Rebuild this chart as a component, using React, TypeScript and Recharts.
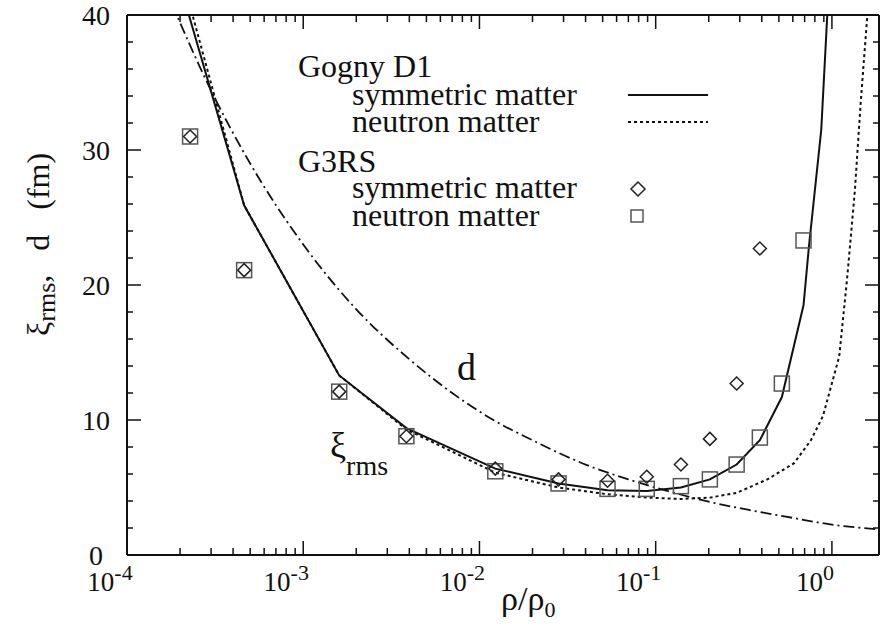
import React from "react";
import {
  ComposedChart,
  Line,
  Scatter,
  XAxis,
  YAxis,
  Legend,
  Customized,
} from "recharts";

const SERIF = "Liberation Serif, Times New Roman, serif";
const INK = "#111";
const X_MIN = 1e-4;
const X_MAX = 1.85;

// G3RS points (rho/rho0 and xi_rms in fm)
const g3rsRho = [2.28e-4, 4.62e-4, 1.6e-3, 3.85e-3, 1.23e-2, 2.81e-2, 5.33e-2, 8.9e-2, 0.139, 0.203, 0.288, 0.39, 0.52, 0.69];
const g3rsSym = [31.0, 21.1, 12.1, 8.8, 6.4, 5.6, 5.5, 5.8, 6.7, 8.6, 12.7, 22.7];
const g3rsNeu = [31.0, 21.1, 12.1, 8.8, 6.2, 5.3, 4.9, 4.9, 5.1, 5.6, 6.7, 8.7, 12.7, 23.3];

// Gogny D1 curves
const gognySymRho = [2.1e-4, 4.62e-4, 1.6e-3, 3.85e-3, 1.23e-2, 2.81e-2, 5.33e-2, 8.9e-2, 0.139, 0.203, 0.288, 0.39, 0.52, 0.69, 0.74, 0.87, 0.95];
const gognySymXi = [41.3, 25.9, 13.3, 9.4, 6.4, 5.3, 4.8, 4.75, 5.0, 5.6, 6.7, 8.5, 11.7, 18.5, 22.8, 31.5, 41.0];
const gognyNeuRho = [2.32e-4, 4.62e-4, 1.6e-3, 3.85e-3, 1.23e-2, 2.81e-2, 5.33e-2, 8.9e-2, 0.139, 0.203, 0.288, 0.43, 0.61, 0.76, 0.89, 1.1, 1.22, 1.35, 1.46, 1.6];
const gognyNeuXi = [40.3, 25.9, 13.3, 9.3, 6.1, 5.0, 4.5, 4.25, 4.15, 4.25, 4.6, 5.6, 6.8, 8.5, 10.3, 14.7, 20.5, 27.0, 33.7, 40.5];

// d (fm)
const dRho = [1.8e-4, 3e-4, 5e-4, 1e-3, 2e-3, 4e-3, 7e-3, 1.2e-2, 2e-2, 4e-2, 7e-2, 0.12, 0.2, 0.35, 0.6, 1.0, 1.5, 2.0];
const dVal = [40.8, 34.4, 29.0, 23.0, 18.2, 14.5, 12.0, 10.0, 8.5, 6.7, 5.6, 4.7, 3.95, 3.3, 2.75, 2.25, 2.0, 1.85];

const decades = [1e-4, 1e-3, 1e-2, 1e-1, 1];
const decadeExp = ["-4", "-3", "-2", "-1", "0"];
const mantissas = [1, 2, 3, 4, 5, 6, 7, 8, 9];
const yTicks = [0, 2, 4, 6, 8, 10, 12, 14, 16, 18, 20, 22, 24, 26, 28, 30, 32, 34, 36, 38, 40];

const xTicks = decades
  .flatMap((d) => mantissas.map((m) => m * d))
  .filter((v) => v <= X_MAX);

const pts = (xs: number[], ys: number[]) => ys.map((y, i) => ({ x: xs[i], y }));

const decadeIndex = (v: number) =>
  decades.findIndex((d) => Math.abs(d - v) < d * 1e-6);

const BottomTick = (props: any) => {
  const { x, y, payload } = props;
  const i = decadeIndex(payload.value);
  const major = i >= 0;
  return (
    <g>
      <line x1={x} x2={x} y1={y} y2={y - (major ? 14 : 7)} stroke={INK} strokeWidth={1.5} />
      {major && (
        <text x={x - 17} y={y + 36} textAnchor="middle" fontFamily={SERIF} fontSize={27} fill={INK}>
          10
          <tspan dy={-11} fontSize={22}>
            {decadeExp[i]}
          </tspan>
        </text>
      )}
    </g>
  );
};

const TopTick = (props: any) => {
  const { x, y, payload } = props;
  const major = decadeIndex(payload.value) >= 0;
  return <line x1={x} x2={x} y1={y} y2={y + (major ? 14 : 7)} stroke={INK} strokeWidth={1.5} />;
};

const LeftTick = (props: any) => {
  const { x, y, payload } = props;
  const major = payload.value % 10 === 0;
  return (
    <g>
      <line x1={x} x2={x + (major ? 14 : 6)} y1={y} y2={y} stroke={INK} strokeWidth={1.5} />
      {major && (
        <text x={x - 31} y={y + 10} textAnchor="middle" fontFamily={SERIF} fontSize={28} fill={INK}>
          {payload.value}
        </text>
      )}
    </g>
  );
};

const RightTick = (props: any) => {
  const { x, y, payload } = props;
  const major = payload.value % 10 === 0;
  return <line x1={x} x2={x - (major ? 14 : 6)} y1={y} y2={y} stroke={INK} strokeWidth={1.5} />;
};

const Square = (props: any) => {
  const { cx, cy } = props;
  return <rect x={cx - 7.5} y={cy - 7.5} width={15} height={15} fill="none" stroke="#555" strokeWidth={1.5} />;
};

const Diamond = (props: any) => {
  const { cx, cy } = props;
  const r = 6.5;
  return (
    <polygon
      points={`${cx},${cy - r} ${cx + r},${cy} ${cx},${cy + r} ${cx - r},${cy}`}
      fill="none"
      stroke="#222"
      strokeWidth={1.5}
    />
  );
};

const LegendBox = () => (
  <svg width={460} height={190} style={{ display: "block", overflow: "visible" }}>
    <g fontFamily={SERIF} fontSize={32} fill={INK}>
      <text x={18} y={27}>Gogny D1</text>
      <text x={72} y={55}>symmetric matter</text>
      <text x={72} y={82}>neutron matter</text>
      <text x={18} y={122}>G3RS</text>
      <text x={72} y={148}>symmetric matter</text>
      <text x={72} y={176}>neutron matter</text>
    </g>
    <line x1={348} x2={428} y1={45} y2={45} stroke={INK} strokeWidth={2} />
    <line x1={348} x2={428} y1={72} y2={72} stroke={INK} strokeWidth={2} strokeDasharray="3 3" />
    <polygon points="358,132 365,139 358,146 351,139" fill="none" stroke="#222" strokeWidth={1.5} />
    <rect x={351} y={160} width={12} height={12} fill="none" stroke="#555" strokeWidth={1.5} />
  </svg>
);

const Labels = () => (
  <g fontFamily={SERIF} fill={INK}>
    <text x={501} y={610} fontSize={34}>
      ρ/ρ<tspan dy={7} fontSize={22}>0</tspan>
    </text>
    <text transform="translate(49,336) rotate(-90)" fontSize={32}>
      ξ<tspan dy={6} fontSize={26}>rms</tspan>
      <tspan dy={-6}>,</tspan>
      <tspan dx={24}>d</tspan>
      <tspan dx={25}>(fm)</tspan>
    </text>
    <text x={457} y={380} fontSize={38}>d</text>
    <text x={330} y={457} fontSize={36}>
      ξ<tspan dy={18} fontSize={28}>rms</tspan>
    </text>
  </g>
);

export default function App() {
  return (
    <div style={{ position: "absolute", left: 0, top: 0 }}>
      <ComposedChart
        width={880}
        height={624}
        margin={{ top: 14, right: 0, left: 67, bottom: 9 }}
        style={{ fontFamily: SERIF }}
      >
        <XAxis
          dataKey="x"
          type="number"
          scale="log"
          domain={[X_MIN, X_MAX]}
          allowDataOverflow
          ticks={xTicks}
          interval={0}
          height={60}
          tickSize={0}
          tickMargin={0}
          tickLine={false}
          tick={<BottomTick />}
          axisLine={{ stroke: INK, strokeWidth: 2 }}
        />
        <XAxis
          xAxisId="top"
          orientation="top"
          dataKey="x"
          type="number"
          scale="log"
          domain={[X_MIN, X_MAX]}
          allowDataOverflow
          ticks={xTicks}
          interval={0}
          height={1}
          tickSize={0}
          tickMargin={0}
          tickLine={false}
          tick={<TopTick />}
          axisLine={{ stroke: INK, strokeWidth: 2 }}
        />
        <YAxis
          dataKey="y"
          type="number"
          domain={[0, 40]}
          allowDataOverflow
          ticks={yTicks}
          interval={0}
          width={60}
          tickSize={0}
          tickMargin={0}
          tickLine={false}
          tick={<LeftTick />}
          axisLine={{ stroke: INK, strokeWidth: 2 }}
        />
        <YAxis
          yAxisId="right"
          orientation="right"
          type="number"
          domain={[0, 40]}
          allowDataOverflow
          ticks={yTicks}
          interval={0}
          width={1}
          tickSize={0}
          tickMargin={0}
          tickLine={false}
          tick={<RightTick />}
          axisLine={{ stroke: INK, strokeWidth: 2 }}
        />
        <Line
          name="d"
          data={pts(dRho, dVal)}
          dataKey="y"
          type="monotone"
          stroke={INK}
          strokeWidth={1.8}
          strokeDasharray="11 4 2 4"
          dot={false}
          isAnimationActive={false}
        />
        <Line
          name="Gogny D1 neutron matter"
          data={pts(gognyNeuRho, gognyNeuXi)}
          dataKey="y"
          type="linear"
          stroke={INK}
          strokeWidth={2}
          strokeDasharray="3 3"
          dot={false}
          isAnimationActive={false}
        />
        <Line
          name="Gogny D1 symmetric matter"
          data={pts(gognySymRho, gognySymXi)}
          dataKey="y"
          type="linear"
          stroke={INK}
          strokeWidth={2}
          dot={false}
          isAnimationActive={false}
        />
        <Scatter
          name="G3RS neutron matter"
          data={pts(g3rsRho, g3rsNeu)}
          dataKey="y"
          shape={<Square />}
          isAnimationActive={false}
        />
        <Scatter
          name="G3RS symmetric matter"
          data={pts(g3rsRho, g3rsSym)}
          dataKey="y"
          shape={<Diamond />}
          isAnimationActive={false}
        />
        <Legend
          layout="horizontal"
          verticalAlign="middle"
          align="center"
          content={() => <LegendBox />}
          wrapperStyle={{ left: 280, top: 50, width: 460, height: 190 }}
        />
        <Customized component={Labels} />
      </ComposedChart>
    </div>
  );
}
